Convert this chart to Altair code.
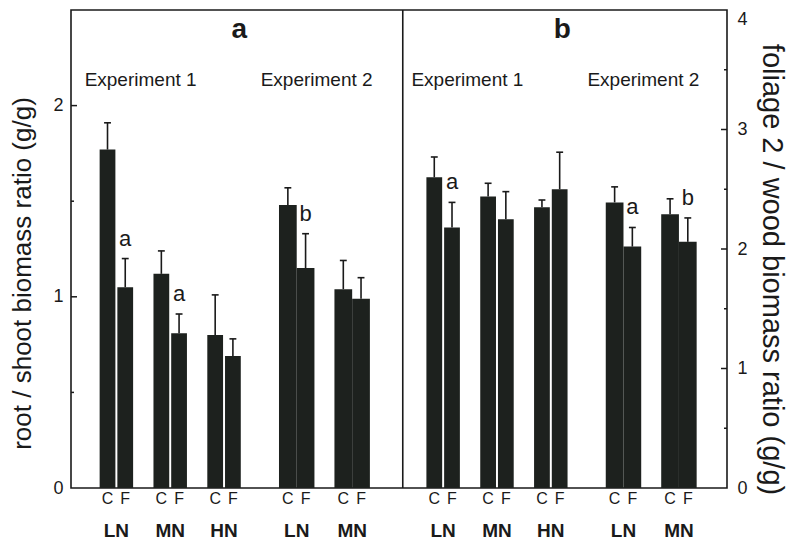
import altair as alt
import pandas as pd

# ---------------- data ----------------
groups = ["LN", "MN", "HN", "LN", "MN"]
experiments = [1, 1, 1, 2, 2]
treatments = ["C", "F"]

rs_C = [1.77, 1.12, 0.80, 1.48, 1.04]
rs_C_err = [0.14, 0.12, 0.21, 0.09, 0.15]
rs_F = [1.05, 0.81, 0.69, 1.15, 0.99]
rs_F_err = [0.15, 0.10, 0.09, 0.18, 0.11]
rs_F_letters = ["a", "a", "", "b", ""]

fw_C = [2.60, 2.44, 2.35, 2.39, 2.29]
fw_C_err = [0.17, 0.11, 0.06, 0.13, 0.13]
fw_F = [2.18, 2.25, 2.50, 2.02, 2.06]
fw_F_err = [0.21, 0.23, 0.31, 0.16, 0.20]
fw_F_letters = ["a", "", "", "a", "b"]

panel_labels = ["a", "b"]
experiment_labels = ["Experiment 1", "Experiment 2"]
y_title_left = "root / shoot biomass ratio (g/g)"
y_title_right = "foliage 2 /  wood biomass ratio (g/g)"
rs_ticks = [0, 1, 2]
rs_minor = [0.5, 1.5]
fw_ticks = [0, 1, 2, 3, 4]
fw_minor = [0.5, 1.5, 2.5, 3.5]

# ---------------- layout ----------------
W, H = 656, 478
X_MAX = 12.0
PX = X_MAX / W
BAR = "#1d211e"
INK = "#1a1a1a"
FONT = "Liberation Sans"
panel_start = [0.0, 6.07]
panel_end = [6.07, X_MAX]


def group_center(p, i):
    base = panel_start[p] + 0.75
    if experiments[i] == 1:
        return base + i * 1.0
    return base + 2.0 + 1.35 + (i - 3) * 1.03


rows = []
panels = [
    (rs_C, rs_C_err, rs_F, rs_F_err, rs_F_letters),
    (fw_C, fw_C_err, fw_F, fw_F_err, fw_F_letters),
]
for p, (cv, ce, fv, fe, lt) in enumerate(panels):
    for i in range(len(groups)):
        c = group_center(p, i)
        if experiments[i] == 1:
            outer, inner = 17, 1
        else:
            outer, inner = 18, 0
        for t, v, e, letter in (("C", cv[i], ce[i], ""), ("F", fv[i], fe[i], lt[i])):
            if t == "C":
                x1, x2 = c - outer * PX, c - inner * PX
            else:
                x1, x2 = c + inner * PX, c + outer * PX
            xc = (x1 + x2) / 2
            rows.append(dict(panel=p, grp=groups[i], treat=t, value=v, top=v + e, zero=0.0,
                             x1=x1, x2=x2, xc=xc, cap1=xc - 3.5 * PX, cap2=xc + 3.5 * PX,
                             gc=c, letter=letter))
df = pd.DataFrame(rows)

xscale = alt.Scale(domain=[0, X_MAX], nice=False, zero=False)


def panel_layer(p, domain, axis):
    d = df[df.panel == p]
    ysc = alt.Scale(domain=domain, nice=False, zero=True)
    base = alt.Chart(d)
    bars = base.mark_bar(color=BAR, orient="vertical").encode(
        x=alt.X("x1:Q", scale=xscale, axis=None),
        x2="x2:Q",
        y=alt.Y("value:Q", scale=ysc, axis=axis),
        y2="zero:Q",
    )
    stems = base.mark_rule(color=INK, strokeWidth=1.6).encode(
        x="xc:Q", y=alt.Y("value:Q", scale=ysc), y2="top:Q")
    caps = base.mark_rule(color=INK, strokeWidth=1.6).encode(
        x="cap1:Q", x2="cap2:Q", y=alt.Y("top:Q", scale=ysc))
    letters = base.transform_filter(alt.datum.letter != "").mark_text(
        font=FONT, fontSize=22, dy=-20, baseline="middle", color=INK
    ).encode(x="xc:Q", y=alt.Y("top:Q", scale=ysc), text="letter:N")
    return bars, stems, caps, letters, ysc


left_axis = alt.Axis(
    values=rs_ticks, format="d", ticks=False, domain=False, grid=False,
    labelFont=FONT, labelFontSize=18, labelColor=INK, labelPadding=8,
    title=y_title_left, titleFont=FONT, titleFontSize=26, titleFontWeight="normal",
    titleColor=INK, titleAngle=270, titleX=-49, titleY=263,
    titleAlign="center", titleBaseline="middle",
)
right_axis = alt.Axis(
    orient="right", values=fw_ticks, format="d", ticks=False, domain=False, grid=False,
    labelFont=FONT, labelFontSize=18, labelColor=INK, labelPadding=10,
    labelOffset={"condition": {"test": "datum.value == 4", "value": 9}, "value": 0},
    title=y_title_right, titleFont=FONT, titleFontSize=29, titleFontWeight="normal",
    titleColor=INK, titleAngle=90, titleX=44, titleY=259,
    titleAlign="center", titleBaseline="middle",
)

lb, ls, lc, ll, lysc = panel_layer(0, [0, 2.5], left_axis)
rb, rs_, rc, rl, rysc = panel_layer(1, [0, 4], right_axis)

# inward axis ticks
rs_tick_df = pd.DataFrame({"v": rs_ticks[1:]})
rs_minor_df = pd.DataFrame({"v": rs_minor})
fw_tick_df = pd.DataFrame({"v": fw_ticks[1:-1]})
fw_minor_df = pd.DataFrame({"v": fw_minor})
lt_major = alt.Chart(rs_tick_df).mark_rule(color=INK, strokeWidth=1.5).encode(
    y=alt.Y("v:Q", scale=lysc), x=alt.value(0), x2=alt.value(6))
lt_minor = alt.Chart(rs_minor_df).mark_rule(color=INK, strokeWidth=1.5).encode(
    y=alt.Y("v:Q", scale=lysc), x=alt.value(0), x2=alt.value(3))
rt_major = alt.Chart(fw_tick_df).mark_rule(color=INK, strokeWidth=1.5).encode(
    y=alt.Y("v:Q", scale=rysc), x=alt.value(W - 6), x2=alt.value(W))
rt_minor = alt.Chart(fw_minor_df).mark_rule(color=INK, strokeWidth=1.5).encode(
    y=alt.Y("v:Q", scale=rysc), x=alt.value(W - 3), x2=alt.value(W))

# divider between panels
div_df = pd.DataFrame({"pos": [panel_end[0]]})
divider = alt.Chart(div_df).mark_rule(color=INK, strokeWidth=1.6).encode(
    x=alt.X("pos:Q", scale=xscale))

# C / F labels and group labels
treat_txt = alt.Chart(df).mark_text(
    font=FONT, fontSize=16, color=INK, baseline="middle"
).encode(x=alt.X("xc:Q", scale=xscale), y=alt.value(489), text="treat:N")
grp_df = df[df.treat == "C"]
grp_txt = alt.Chart(grp_df).mark_text(
    font=FONT, fontSize=19, fontWeight="bold", color=INK, baseline="middle"
).encode(x=alt.X("gc:Q", scale=xscale), y=alt.value(521), text="grp:N")

# panel letters and experiment labels
plab_df = pd.DataFrame({
    "label": panel_labels,
    "x": [(panel_start[k] + panel_end[k]) / 2 for k in range(2)],
})
plab = alt.Chart(plab_df).mark_text(
    font=FONT, fontSize=28, fontWeight="bold", color=INK, baseline="middle"
).encode(x=alt.X("x:Q", scale=xscale), y=alt.value(20), text="label:N")

exp_rows = []
for k in range(2):
    exp_rows.append({"label": experiment_labels[0], "x": panel_start[k] + 1.2})
    exp_rows.append({"label": experiment_labels[1], "x": panel_start[k] + 4.47})
exp_df = pd.DataFrame(exp_rows)
exp_txt = alt.Chart(exp_df).mark_text(
    font=FONT, fontSize=19, color=INK, baseline="middle"
).encode(x=alt.X("x:Q", scale=xscale), y=alt.value(70), text="label:N")

left = alt.layer(lb, ls, lc, ll, lt_major, lt_minor, divider, treat_txt, grp_txt, plab, exp_txt)
right = alt.layer(rb, rs_, rc, rl, rt_major, rt_minor)

chart = alt.layer(left, right).resolve_scale(y="independent").properties(
    width=W, height=H,
    autosize=alt.AutoSizeParams(type="none"),
    padding={"left": 63, "top": 2, "right": 60, "bottom": 54},
).configure(font=FONT).configure_view(stroke=INK, strokeWidth=1.6)

chart.save("out.html", embed_options={"renderer": "svg", "actions": False})
